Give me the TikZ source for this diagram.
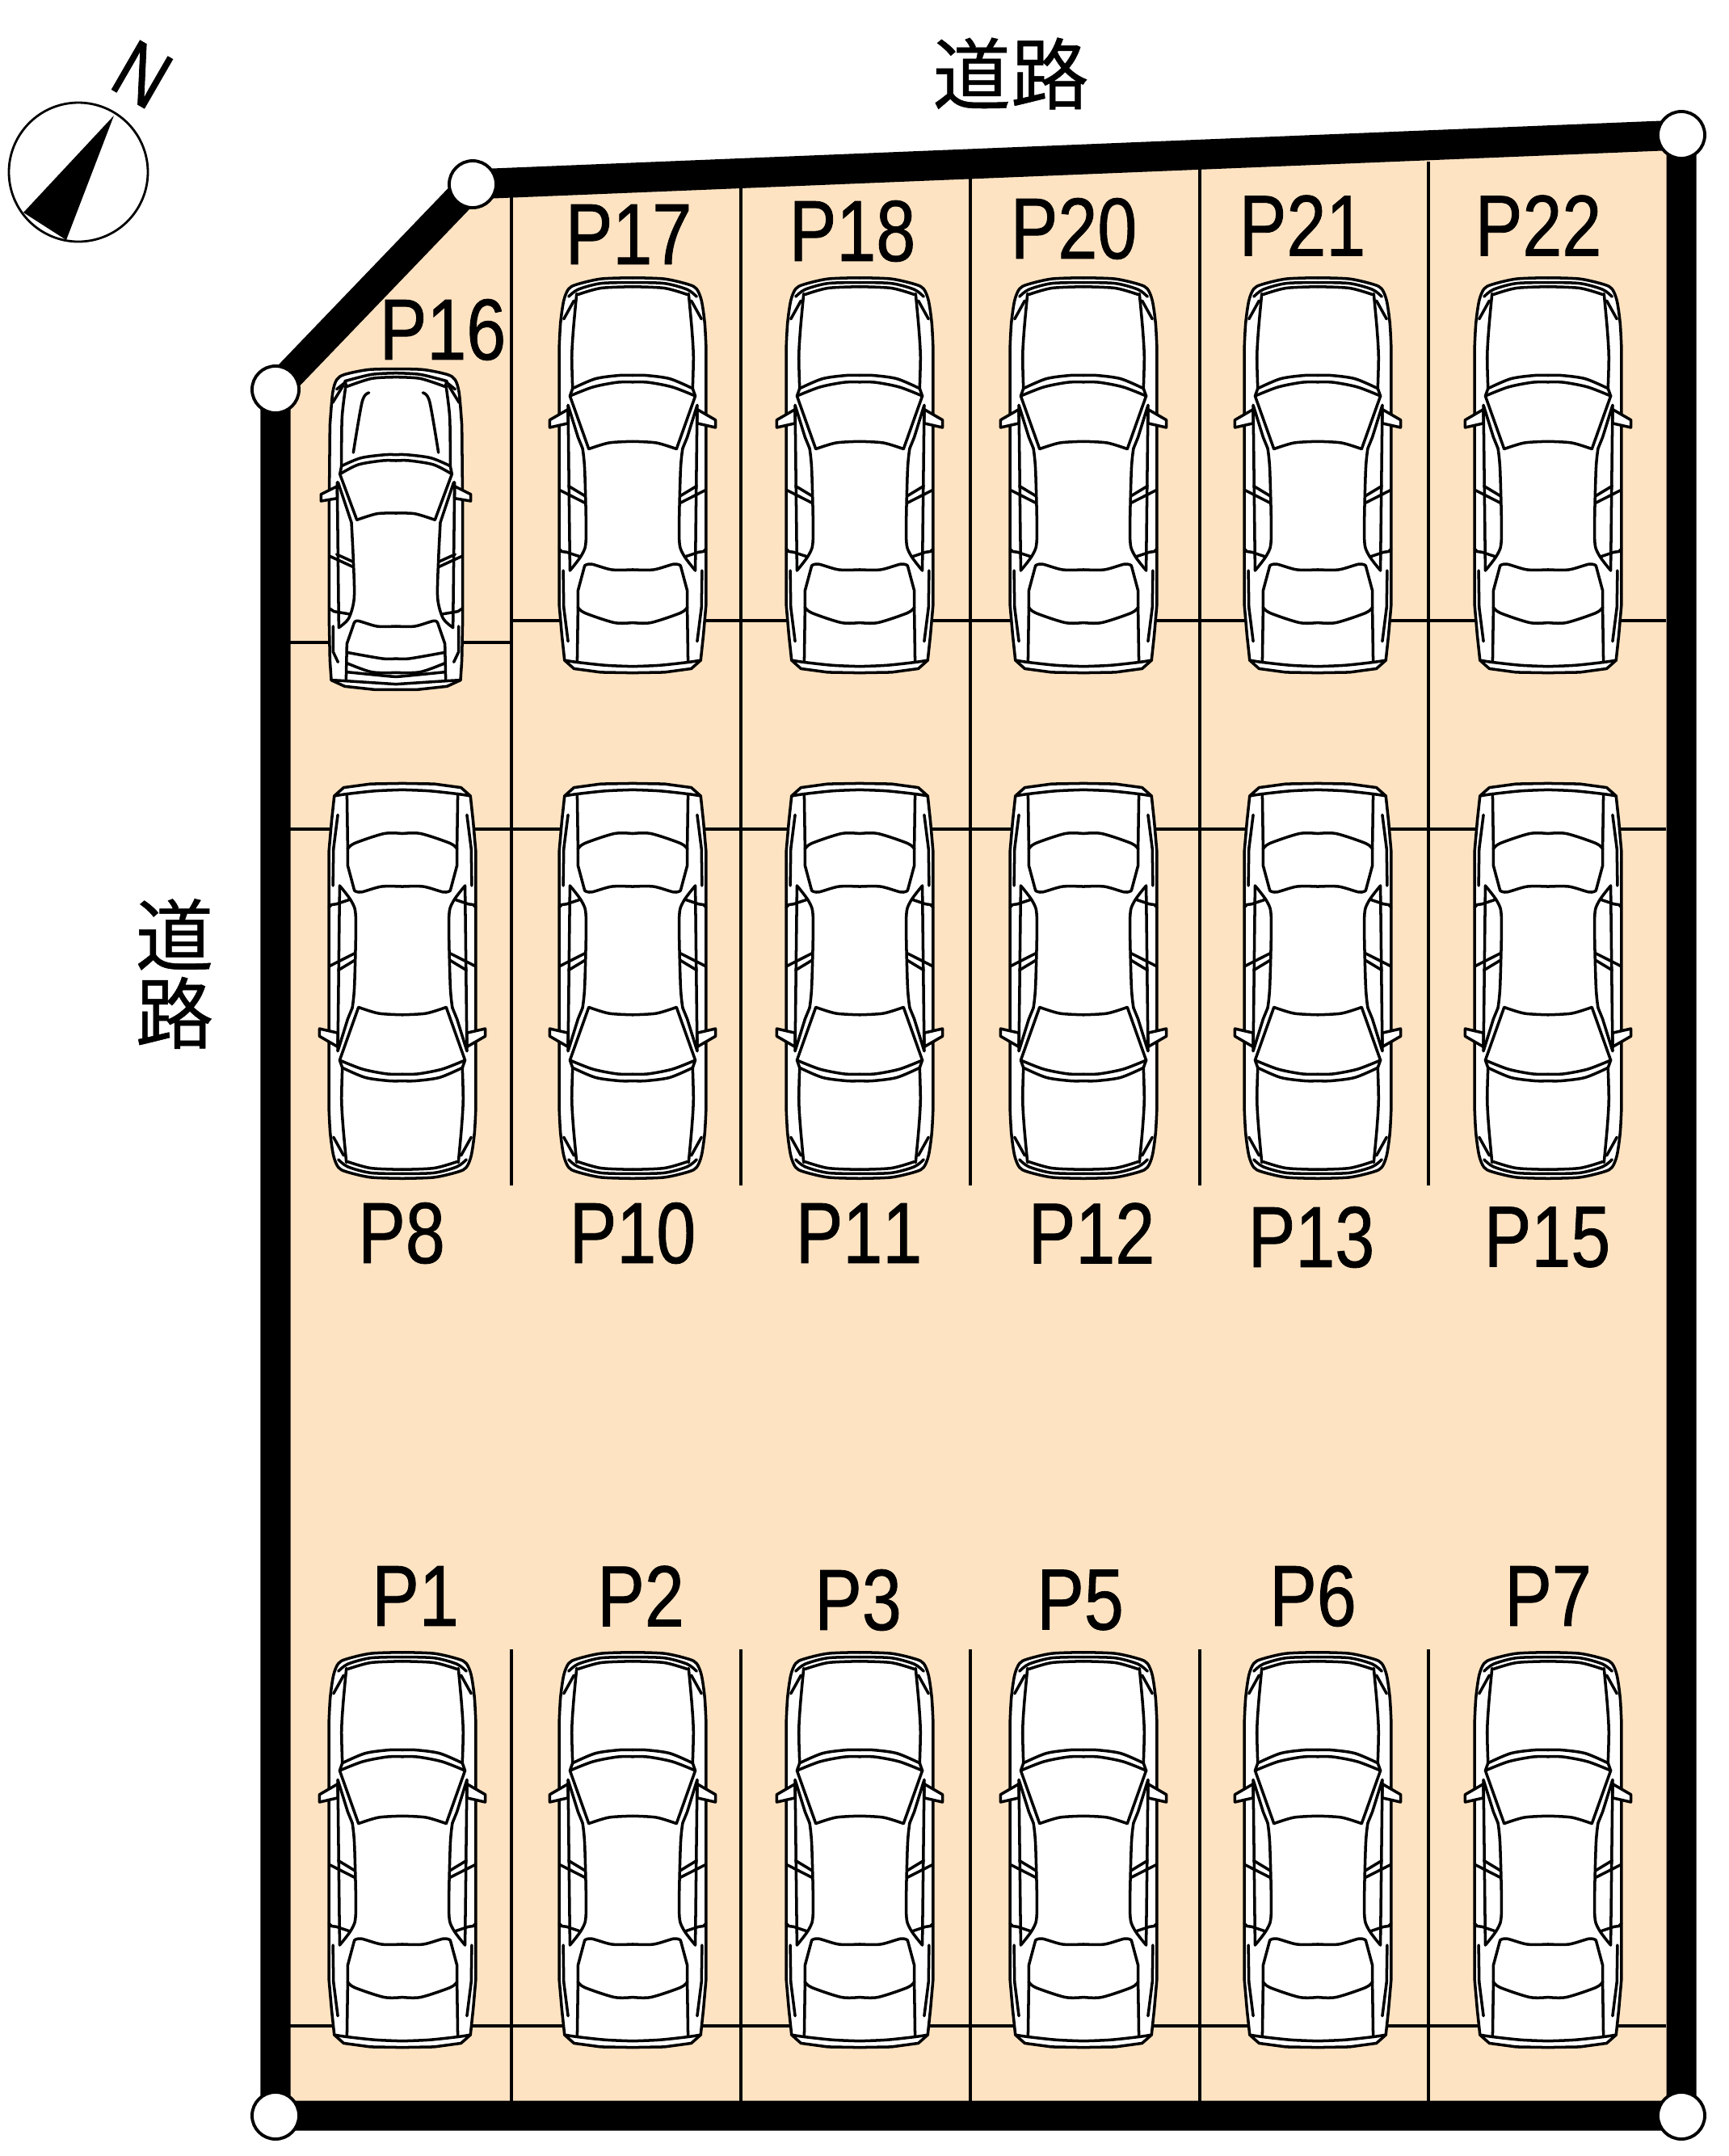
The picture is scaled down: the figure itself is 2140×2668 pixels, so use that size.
\documentclass[tikz,border=0pt]{standalone}
\usepackage{fontspec}
\setmainfont{Liberation Sans}
\newfontfamily\lotfont[FakeStretch=0.82,FakeBold=0.8,Kerning=Off]{Liberation Sans}
\newfontfamily\cjkfont[FakeBold=0.5]{Noto Sans CJK JP}
\definecolor{lotfill}{HTML}{FEE3C2}
\tikzset{
  carline/.style={black, line width=1pt, line join=round, line cap=round},
  stallline/.style={black, line width=1pt},
  lotlabel/.style={inner sep=0pt, font=\lotfont\fontsize{30.5}{32}\selectfont},
  roadlabel/.style={inner sep=0pt, align=center, font=\cjkfont\fontsize{27.5}{27.5}\selectfont},
  corner/.style={circle, draw=black, fill=white, line width=1.1pt, minimum size=0.58cm, inner sep=0pt},
  carup/.style={xscale=0.333, yscale=0.345},
  cardown/.style={xscale=0.333, yscale=-0.345},
  car/.pic={
    % body
    \foreach \side in {1,-1} {
      \begin{scope}[xscale=\side]
        \fill[white] plot[smooth] coordinates {(0,-708) (118,-704) (208,-684) (238,-668) (256,-626) (268,-546) (273,-456)} -- (273,264) -- (273,464) -- (263,574) -- (253,664) -- (218,694) -- (118,707) -- (0,709) -- cycle;
      \end{scope}
    }
    \foreach \side in {1,-1} {
      \begin{scope}[xscale=\side, carline]
        \draw plot[smooth] coordinates {(0,-708) (118,-704) (208,-684) (238,-668) (256,-626) (268,-546) (273,-456)} -- (273,464) -- (263,574) -- (253,664) -- (218,694) -- (118,707) -- (0,709);
        % mirror
        \filldraw[fill=white] (240,-236) -- (308,-198) -- (308,-171) -- (240,-186) -- cycle;
        % hood
        \draw plot[smooth] coordinates {(238,-640) (203,-666) (118,-688) (0,-691)};
        \draw plot[smooth] coordinates {(203,-648) (118,-671) (0,-676)};
        \draw (218,-626) -- (256,-560);
        \draw plot[smooth] coordinates {(208,-651) (220,-526) (226,-426) (223,-311)};
        % windshield
        \draw plot[smooth] coordinates {(223,-311) (138,-346) (48,-358) (0,-358)};
        \draw plot[smooth] coordinates {(233,-284) (148,-316) (58,-333) (0,-334)};
        \draw (223,-311) -- (233,-284) -- (163,-94);
        \draw plot[smooth] coordinates {(163,-94) (88,-116) (0,-121)};
        % side windows
        \draw plot[smooth] coordinates {(186,-96) (178,-16) (173,224) (188,284) (233,342)};
        \draw (240,-251) -- (233,342);
        \draw (240,-251) -- (203,-136) -- (186,-96);
        \draw (238,39) -- (178,74);
        \draw (270,54) -- (178,99);
        \draw (273,264) -- (263,274) -- (246,276) -- (196,292);
        \draw (258,342) -- (256,474) -- (240,596);
        % rear window and boot
        \draw (178,324) -- (203,414) -- (203,474);
        \draw plot[smooth] coordinates {(178,324) (153,319) (78,339) (0,339)};
        \draw plot[smooth] coordinates {(203,474) (178,494) (68,529) (0,529)};
        \draw (203,474) -- (206,671);
        \draw plot[smooth] coordinates {(253,664) (206,671) (100,682) (0,686)};
      \end{scope}
    }
  },
  shortcar/.pic={
    % body
    \foreach \side in {1,-1} {
      \begin{scope}[xscale=\side]
        \fill[white] plot[smooth] coordinates {(0,-595) (100,-593) (190,-575) (220,-555) (235,-505) (245,-385)} -- (248,-65) -- (248,335) -- (245,485) -- (240,560) -- (190,583) -- (80,595) -- (0,595) -- cycle;
      \end{scope}
    }
    \foreach \side in {1,-1} {
      \begin{scope}[xscale=\side, carline]
        \draw plot[smooth] coordinates {(0,-595) (100,-593) (190,-575) (220,-555) (235,-505) (245,-385)} -- (248,-65) -- (248,335) -- (245,485) -- (240,560) -- (190,583) -- (80,595) -- (0,595);
        % mirror
        \filldraw[fill=white] (218,-160) -- (278,-130) -- (278,-105) -- (218,-115) -- cycle;
        % hood
        \draw plot[smooth] coordinates {(190,-550) (90,-575) (0,-580)};
        \draw plot[smooth] coordinates {(182,-530) (90,-560) (0,-565)};
        \draw (220,-520) -- (185,-548);
        \draw (235,-470) -- (195,-535);
        \draw plot[smooth] coordinates {(185,-540) (200,-415) (202,-235)};
        \draw plot[smooth] coordinates {(100,-507) (125,-475) (158,-285)};
        % windshield
        \draw plot[smooth] coordinates {(202,-235) (130,-265) (40,-277) (0,-277)};
        \draw plot[smooth] coordinates {(208,-205) (140,-240) (50,-255) (0,-255)};
        \draw (202,-235) -- (208,-205) -- (145,-35);
        \draw plot[smooth] coordinates {(145,-35) (70,-58) (0,-60)};
        % side windows
        \draw plot[smooth] coordinates {(165,-25) (158,115) (155,255) (175,330) (212,365)};
        \draw (215,-175) -- (165,-25);
        \draw (218,-175) -- (212,365);
        \draw (220,93) -- (160,120);
        \draw (245,100) -- (158,140);
        \draw (245,295) -- (230,305) -- (170,315);
        \draw (233,360) -- (233,455) -- (215,493);
        % rear window and boot
        \draw (155,347) -- (182,425) -- (185,563);
        \draw plot[smooth] coordinates {(155,347) (140,340) (70,360) (0,360)};
        \draw plot[smooth] coordinates {(182,457) (50,480) (0,480)};
        \draw plot[smooth] coordinates {(182,497) (90,530) (0,532)};
        \draw plot[smooth] coordinates {(182,530) (30,545) (0,547)};
        \draw plot[smooth] coordinates {(240,560) (185,563) (0,575)};
      \end{scope}
    }
  }
}
\begin{document}
\begin{tikzpicture}[x=0.01cm, y=-0.01cm]
    \useasboundingbox (0,0) rectangle (2140,2668);

    % Corners of the lot
    \coordinate (sw) at (341,2618);
    \coordinate (nw) at (341,482);
    \coordinate (nn) at (585,228);
    \coordinate (ne) at (2081,167);
    \coordinate (se) at (2081,2618);

    \fill[lotfill] (sw) -- (nw) -- (nn) -- (ne) -- (se) -- cycle;

    % Stall lines
    \foreach \xpos/\ytop in {633/235, 917/225, 1201/215, 1485/210, 1768/200} {
        \draw[stallline] (\xpos,\ytop) -- (\xpos,1467);
    }
    \foreach \xpos in {633, 917, 1201, 1485, 1768} {
        \draw[stallline] (\xpos,2041) -- (\xpos,2600);
    }
    \draw[stallline] (633,768) -- (2062,768);
    \draw[stallline] (357,795) -- (633,795);
    \draw[stallline] (357,1026) -- (2062,1026);
    \draw[stallline] (357,2507) -- (2062,2507);

    % Boundary
    \draw[black, line width=0.37cm, line join=miter] (sw) -- (nw) -- (nn) -- (ne) -- (se) -- cycle;

    % Cars
    \foreach \xpos in {783, 1064, 1341, 1631, 1916} {
        \pic[carup] at (\xpos,588) {car};
    }
    \foreach \xpos in {498, 783, 1064, 1341, 1631, 1916} {
        \pic[cardown] at (\xpos,1214) {car};
    }
    \foreach \xpos in {498, 783, 1064, 1341, 1631, 1916} {
        \pic[carup] at (\xpos,2289) {car};
    }
    \pic[scale=0.3333] at (490,655) {shortcar};

    % Corner posts
    \node[corner] (cornerSW) at (sw) {};
    \node[corner] (cornerNW) at (nw) {};
    \node[corner] (cornerNN) at (nn) {};
    \node[corner] (cornerNE) at (ne) {};
    \node[corner] (cornerSE) at (se) {};

    % Stall numbers
    \foreach \lbl/\xpos/\ypos in {P16/548/408, P17/778/290, P18/1055/286, P20/1329/283, P21/1612/279, P22/1904/279,
        P8/497/1526, P10/783/1526, P11/1063/1526, P12/1351/1526, P13/1623/1531, P15/1915/1531,
        P1/514/1975, P2/793/1975, P3/1062/1980, P5/1337/1980, P6/1625/1975, P7/1916/1975} {
        \node[lotlabel] (lbl\lbl) at (\xpos,\ypos) {\lbl};
    }

    % Road names
    \node[roadlabel] (roadTop) at (1251,91) {道路};
    \node[roadlabel] (roadLeft) at (216,1205) {道\\路};

    % North mark
    \draw[black, line width=0.8pt, fill=white] (97,213) circle (86);
    \fill[black] (141,143) -- (29,263) -- (82,297) -- cycle;
    \node[inner sep=0pt, rotate=-30, font=\lotfont\fontsize{29}{30}\selectfont] (north) at (176,92) {N};
\end{tikzpicture}
\end{document}
